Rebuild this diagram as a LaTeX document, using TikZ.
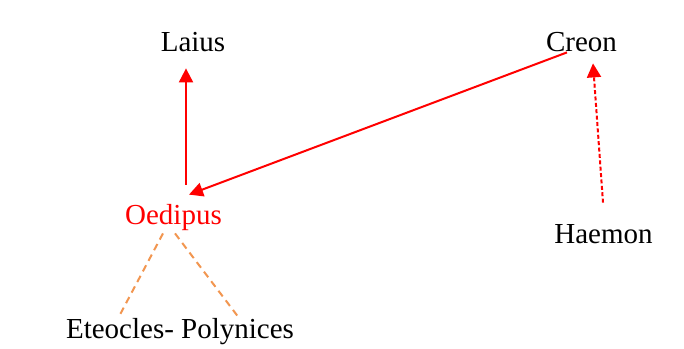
\documentclass[tikz,border=0pt]{standalone}
\usepackage{fontspec}
\setmainfont{Liberation Serif}
\usetikzlibrary{arrows.meta}
\definecolor{dashorange}{RGB}{242,150,80}
\begin{document}
\begin{tikzpicture}[x=0.5pt,y=-0.5pt,
  lbl/.style={inner sep=0pt,text height=10pt,text depth=3pt,anchor=base,font=\fontsize{14.5}{17}\selectfont},
  arr/.style={red,line width=1pt,-{Triangle[length=7pt,width=7pt]}},
  darr/.style={arr,dash pattern=on 2pt off 1.2pt},
  odash/.style={dashorange,line width=1pt,dash pattern=on 3.5pt off 2.5pt}]
\useasboundingbox[fill=white] (0,0) rectangle (684,348);
\node[lbl] (laius) at (193,51) {Laius};
\node[lbl] (creon) at (581.5,51) {Creon};
\node[lbl,text=red] (oed) at (173.5,224) {Oedipus};
\node[lbl] (haemon) at (603.5,243) {Haemon};
\node[lbl] (ete) at (180,338) {Eteocles- Polynices};
\draw[arr] ([shift={(12.5,-19)}]oed.north) -- ([shift={(-7,11)}]laius.south);
\draw[arr] ([shift={(-14.5,-5)}]creon.south) -- ([shift={(15.5,-9)}]oed.north);
\draw[darr] ([shift={(-0.5,-20)}]haemon.north) -- ([shift={(11.5,6)}]creon.south);
\draw[odash] ([shift={(-10.5,3)}]oed.south) -- ([shift={(-60,-3)}]ete.north);
\draw[odash] ([shift={(1.5,3)}]oed.south) -- ([shift={(58,-1)}]ete.north);
\end{tikzpicture}
\end{document}
